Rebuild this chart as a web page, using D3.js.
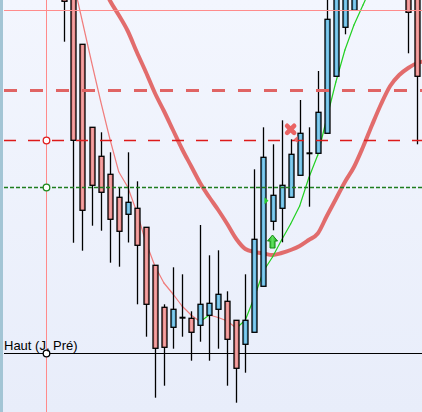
<!DOCTYPE html>
<html><head><meta charset="utf-8">
<script src="https://cdn.jsdelivr.net/npm/d3@7"></script>
<style>html,body{margin:0;padding:0;overflow:hidden;background:#eef2fc}</style>
</head><body>
<svg id="c" width="422" height="412"></svg>
<script>
// ---- data (price units) ----
const openP  = [530,515,455.7,372.7,343.7,325.7,302.7,285.7,291.7,272.7,234.7,192.7,172.7,182.3,181.7,174.7,184.7,190.7,198.7,179.7,155.7,167.7,213.7,278.7,291.7,302.7,324.7,346.7,346.7,366.7,423.7,472.7,489.7,520,550,585,565,595,540,505];
const highP  = [540,525,455.7,372.7,367.7,347.7,312.5,347.7,318.7,272.7,234.7,195.7,232.7,225.7,188.7,275,244.7,249.7,208.7,179.7,225.7,330.7,372.7,355.7,379.7,360.7,400,372.7,429,510,535,555,570,585,600,595,610,605,545,510];
const lowP   = [458.3,257.3,249.3,274.3,269.3,237.3,233.3,257.5,195.7,163.3,102.3,114.3,151.3,163.3,139.3,158.3,139.3,151.3,114.3,97.3,127.3,167.7,213.7,269.7,257.7,302.7,324.7,293.3,346.7,366.7,423.7,465.7,489.7,510,540,550,555,530,446.7,355.7];
const closeP = [498.7,359.7,289.7,314.7,307.7,280.7,268.7,297.7,254.7,195.7,151.7,152.7,190.7,182.3,167.7,195.7,196.7,205.7,160.7,131.7,179.7,260.7,342.7,304.7,314.7,345.7,366.7,346.7,387.7,480.7,525,545,560,570,590,560,600,540,487.7,423.7];
// fast moving average (index 0 = none)
const fastMA = [null,518,478,438,399,362,328.3,313,288,258,234,217,206,194,185,178.3,185,182.5,179,171.7,180,203,229,243,260,276,294,322,345,382,418,450,475,495,515,530];
// slow moving average
const slowMA = [null,null,null,null,520,500,485,469,448,428,407,389,370,351,334,317,303,290,276,261,251,248,246.5,245,247,250,254,260,266.5,284,301,318,333,353,375,396,414,425,432,437,439];
// horizontal levels
const levelPink = 490, levelDayOpen = 410, levelRes = 360.5, levelSup = 313, levelPrevHigh = 147;
const prevHighLabel = "Haut (J, Pré)";
const sessionIndex = -2;
// signals
const markers = [
  {type:"arrowUp", index:23, price:258},
  {type:"triRight", index:23, price:299.3},
  {type:"cross", index:25, price:370.7},
  {type:"triLeft", index:25, price:360.5}
];

const W=422,H=412;
const svg=d3.select("#c");
const x=d3.scaleLinear().domain([0,39]).range([64.4,417.3]);
const y=d3.scaleLinear().domain([500,88]).range([0,412]);
const defs=svg.append("defs");
const bg=defs.append("linearGradient").attr("id","bg").attr("x1",0).attr("y1",0).attr("x2",0).attr("y2",1);
bg.append("stop").attr("offset","0%").attr("stop-color","#f3f6fe");
bg.append("stop").attr("offset","100%").attr("stop-color","#e8edfa");
function hgrad(id,edge,mid){const g=defs.append("linearGradient").attr("id",id).attr("x1",0).attr("x2",1).attr("y1",0).attr("y2",0);
 g.append("stop").attr("offset","0%").attr("stop-color",edge);
 g.append("stop").attr("offset","50%").attr("stop-color",mid);
 g.append("stop").attr("offset","100%").attr("stop-color",edge);}
hgrad("gDown","#e07474","#f2a4a4");
hgrad("gUp","#4aa8d6","#84cbec");
hgrad("gArrow","#1aa81a","#5ee05e");
defs.append("clipPath").attr("id","clip").append("rect").attr("x",3).attr("y",0).attr("width",W-3).attr("height",H);

svg.append("rect").attr("width",W).attr("height",H).attr("fill","url(#bg)");
svg.append("rect").attr("x",0).attr("y",0).attr("width",3).attr("height",H).attr("fill","#a3c5d5");

const g=svg.append("g").attr("clip-path","url(#clip)");
const xs=Math.round(x(sessionIndex))+0.5;
// vertical session line
g.append("line").attr("x1",xs).attr("x2",xs).attr("y1",0).attr("y2",H).attr("stroke","#ff8a8a").attr("stroke-width",1);
// slow MA
const line=d3.line().defined(d=>d.v!=null).x(d=>x(d.i)).y(d=>y(d.v)).curve(d3.curveMonotoneX);
g.append("path").datum(slowMA.map((v,i)=>({i,v}))).attr("d",line).attr("fill","none")
 .attr("stroke","#e06464").attr("stroke-width",4).attr("stroke-linejoin","round").attr("opacity",0.95);
// fast MA coloured by slope
for(let i=1;i<fastMA.length;i++){
  const a=fastMA[i-1],b=fastMA[i]; if(a==null||b==null) continue;
  g.append("line").attr("x1",x(i-1)).attr("y1",y(a)).attr("x2",x(i)).attr("y2",y(b))
   .attr("stroke", b>a? "#22d022":"#f07c7c").attr("stroke-width",1.2).attr("stroke-linecap","round");
}
// horizontal lines
function hline(p,color,w,dash){const yy=Math.round(y(p))+(w%2?0.5:0);
 g.append("line").attr("x1",4).attr("x2",W).attr("y1",yy).attr("y2",yy)
 .attr("stroke",color).attr("stroke-width",w).attr("stroke-dasharray",dash||null);}
hline(levelPrevHigh,"#000",1);
// candles
const data=openP.map((o,i)=>({i,o,h:highP[i],l:lowP[i],c:closeP[i]}));
const cg=g.append("g");
data.forEach(d=>{
  const cx=Math.round(x(d.i))+0.5;
  cg.append("line").attr("x1",cx).attr("x2",cx).attr("y1",y(d.h)).attr("y2",y(d.l)).attr("stroke","#000").attr("stroke-width",1.3);
  if(Math.abs(d.o-d.c)<0.01){
    cg.append("line").attr("x1",cx-3).attr("x2",cx+3).attr("y1",y(d.o)).attr("y2",y(d.o)).attr("stroke","#000").attr("stroke-width",2);
  } else {
    const t=y(Math.max(d.o,d.c)), b=y(Math.min(d.o,d.c));
    cg.append("rect").attr("x",cx-2.5).attr("y",t).attr("width",5).attr("height",b-t)
      .attr("fill",d.c>d.o?"url(#gUp)":"url(#gDown)").attr("stroke","#000").attr("stroke-width",1.3);
  }
});
hline(levelPink,"#ff8c8c",1);
hline(levelDayOpen,"#e06464",3,"13,13");
hline(levelRes,"#dd1a1a",1.5,"12,12");
hline(levelSup,"#1e7d1e",1.3,"4,2");
// markers
markers.forEach(m=>{
  const cx=x(m.index), cy=y(m.price);
  if(m.type==="arrowUp"){
    g.append("path").attr("d",`M${cx},${cy-7}L${cx+5},${cy-1}L${cx+2.5},${cy-1}L${cx+2.5},${cy+6}L${cx-2.5},${cy+6}L${cx-2.5},${cy-1}L${cx-5},${cy-1}Z`)
     .attr("fill","url(#gArrow)").attr("stroke","#138a13").attr("stroke-width",1);
  } else if(m.type==="triRight"){
    g.append("path").attr("d",`M${cx-8},${cy-3.5}L${cx-4},${cy}L${cx-8},${cy+3.5}Z`).attr("fill","#2ccc2c");
  } else if(m.type==="triLeft"){
    g.append("path").attr("d",`M${cx+3},${cy}L${cx+7},${cy-3.5}L${cx+7},${cy+3.5}Z`).attr("fill","#f06a6a");
  } else if(m.type==="cross"){
    g.append("path").attr("d",`M${cx-3.5},${cy-3.5}L${cx+3.5},${cy+3.5}M${cx+3.5},${cy-3.5}L${cx-3.5},${cy+3.5}`)
     .attr("stroke","#ea6464").attr("stroke-width",4.6).attr("stroke-linecap","round").attr("fill","none");
  }
});
// circles at session line
[[levelRes,"#e02020"],[levelSup,"#1e8a1e"],[levelPrevHigh,"#000"]].forEach(([p,c])=>{
  g.append("circle").attr("cx",xs).attr("cy",Math.round(y(p))+0.5).attr("r",3.3).attr("fill","#fff").attr("stroke",c).attr("stroke-width",1.3);
});
svg.append("text").attr("x",4).attr("y",y(levelPrevHigh)-3).attr("font-family","Liberation Sans, Arial, sans-serif")
 .attr("font-size",13).attr("fill","#000").text(prevHighLabel);
</script>
</body></html>
